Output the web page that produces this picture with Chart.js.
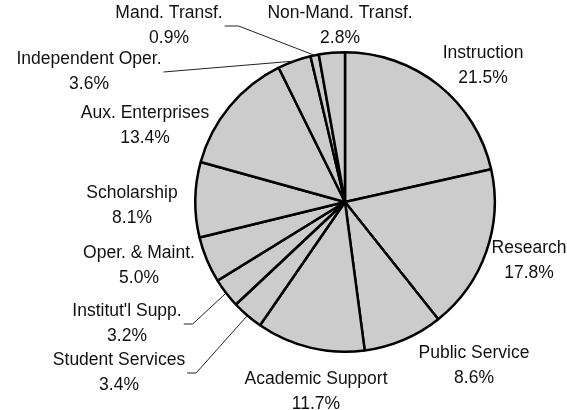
<!DOCTYPE html>
<html>
<head>
<meta charset="utf-8">
<script src="https://cdn.jsdelivr.net/npm/chart.js@4"></script>
<style>
  body { margin: 0; background: #fff; }
  canvas { display: block; }
</style>
</head>
<body>
<canvas id="myChart" width="567" height="410"></canvas>
<script>
const categories = ['Instruction', 'Research', 'Public Service', 'Academic Support',
  'Student Services', "Institut'l Supp.", 'Oper. & Maint.', 'Scholarship',
  'Aux. Enterprises', 'Independent Oper.', 'Mand. Transf.', 'Non-Mand. Transf.'];
const shares = [21.5, 17.8, 8.6, 11.7, 3.4, 3.2, 5.0, 8.1, 13.4, 3.6, 0.9, 2.8];

// where each label block sits, relative to the pie centre
const labelOffsets = [[138, -136], [184, 59], [129, 164], [-29, 190], [-226, 171], [-218, 122],
  [-206, 64], [-213, 4], [-200, -76], [-256, -130], [-176, -176], [-5, -176]];
// leader lines: null = none, number = length of the flat bit next to the text
const leaderElbow = [null, null, null, null, 9, 9, null, null, null, 0, 14, null];

const FONT = '17.5px "Liberation Sans", Arial, sans-serif';
const LINE_GAP = 25;

const pieLabels = {
  id: 'pieLabels',
  afterDraw(chart) {
    const ctx = chart.ctx;
    const arcs = chart.getDatasetMeta(0).data;
    ctx.save();
    ctx.font = FONT;
    ctx.fillStyle = '#111';
    ctx.textAlign = 'center';
    ctx.textBaseline = 'middle';
    arcs.forEach((arc, i) => {
      const cx = arc.x + labelOffsets[i][0];
      const cy = arc.y + labelOffsets[i][1];
      const lines = [categories[i], shares[i].toFixed(1) + '%'];
      ctx.fillText(lines[0], cx, cy - LINE_GAP / 2);
      ctx.fillText(lines[1], cx, cy + LINE_GAP / 2);
      if (leaderElbow[i] !== null) {
        const w = Math.max(...lines.map(t => ctx.measureText(t).width));
        const mid = (arc.startAngle + arc.endAngle) / 2;
        const ex = arc.x + arc.outerRadius * Math.cos(mid);
        const ey = arc.y + arc.outerRadius * Math.sin(mid);
        const sx = cx + w / 2 + 2;
        ctx.beginPath();
        ctx.strokeStyle = '#222';
        ctx.lineWidth = 1;
        ctx.moveTo(sx, cy);
        ctx.lineTo(sx + leaderElbow[i], cy);
        ctx.lineTo(ex, ey);
        ctx.stroke();
      }
    });
    ctx.restore();
  }
};

const ctx = document.getElementById('myChart');

new Chart(ctx, {
  type: 'pie',
  data: {
    labels: categories,
    datasets: [{
      data: shares,
      backgroundColor: '#cccccc',
      borderColor: '#000',
      borderWidth: 2.5
    }]
  },
  options: {
    responsive: false,
    animation: false,
    layout: { padding: { left: 194, right: 71, top: 51, bottom: 57 } },
    plugins: {
      legend: { display: false },
      tooltip: { enabled: false }
    }
  },
  plugins: [pieLabels]
});
</script>
</body>
</html>
